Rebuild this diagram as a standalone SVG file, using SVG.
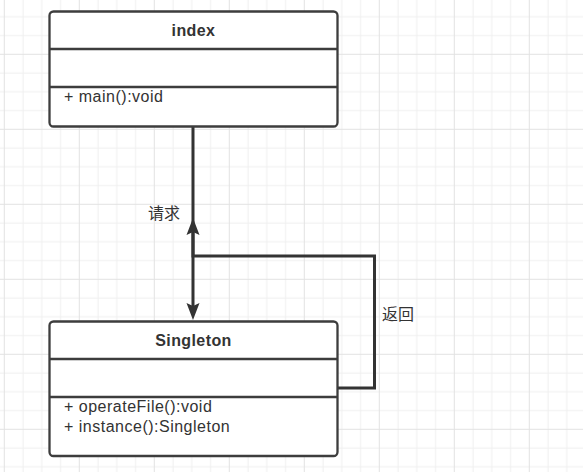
<svg xmlns="http://www.w3.org/2000/svg" width="583" height="472" viewBox="0 0 583 472">
<style>
.box{fill:#ffffff;stroke:#3d3d3d;stroke-width:2.3}
.div{stroke:#3d3d3d;stroke-width:2.3;fill:none}
.title{font-family:"Liberation Sans",Arial,sans-serif;font-size:16px;font-weight:bold;fill:#333333;text-anchor:middle;letter-spacing:0.4px}
.attr{font-family:"Liberation Sans",Arial,sans-serif;font-size:16px;fill:#333333;letter-spacing:0.5px}
.lbl{font-family:"Liberation Sans","Noto Sans CJK SC",sans-serif;font-size:16px;fill:#333333}
.edge{fill:none;stroke:#333333;stroke-width:3}
</style>
<defs>
<pattern id="grid" patternUnits="userSpaceOnUse" x="3.8" y="53.8" width="75" height="75">
<rect x="0" y="0" width="75" height="75" fill="#ffffff"/>
<rect x="18.75" y="0" width="1" height="75" fill="#efefef"/>
<rect x="37.5" y="0" width="1" height="75" fill="#efefef"/>
<rect x="56.25" y="0" width="1" height="75" fill="#efefef"/>
<rect x="0" y="18.75" width="75" height="1" fill="#efefef"/>
<rect x="0" y="37.5" width="75" height="1" fill="#efefef"/>
<rect x="0" y="56.25" width="75" height="1" fill="#efefef"/>
<rect x="0" y="0" width="1" height="75" fill="#e2e2e2"/>
<rect x="0" y="0" width="75" height="1" fill="#e2e2e2"/>
</pattern>
<marker id="arrow" markerUnits="userSpaceOnUse" markerWidth="20" markerHeight="16" viewBox="0 -8 20 16" refX="3" refY="0" orient="auto">
<path d="M0,-6.5 L17,0 L0,6.5 L3,0 Z" fill="#333333"/>
</marker>
</defs>
<rect x="0" y="0" width="583" height="472" fill="url(#grid)"/>
<g id="connectors">
<path class="edge" d="M193,127 L193,306" marker-end="url(#arrow)"/>
<path class="edge" d="M337,388 L374.5,388 L374.5,256 L193,256 L193,232" marker-end="url(#arrow)"/>
<text class="lbl" x="148" y="218.5">请求</text>
<text class="lbl" x="382" y="320">返回</text>
</g>
<g id="index">
<rect class="box" x="49.5" y="11.5" width="288" height="115" rx="4"/>
<line class="div" x1="49.5" y1="49" x2="337.5" y2="49"/>
<line class="div" x1="49.5" y1="87" x2="337.5" y2="87"/>
<text class="title" x="193.5" y="36">index</text>
<text class="attr" x="64" y="101.5">+ main():void</text>
</g>
<g id="Singleton">
<rect class="box" x="49.5" y="321.5" width="288" height="134.5" rx="4"/>
<line class="div" x1="49.5" y1="359" x2="337.5" y2="359"/>
<line class="div" x1="49.5" y1="397" x2="337.5" y2="397"/>
<text class="title" x="193.5" y="346">Singleton</text>
<text class="attr" x="64" y="411.5">+ operateFile():void</text>
<text class="attr" x="64" y="431.5">+ instance():Singleton</text>
</g>
</svg>
